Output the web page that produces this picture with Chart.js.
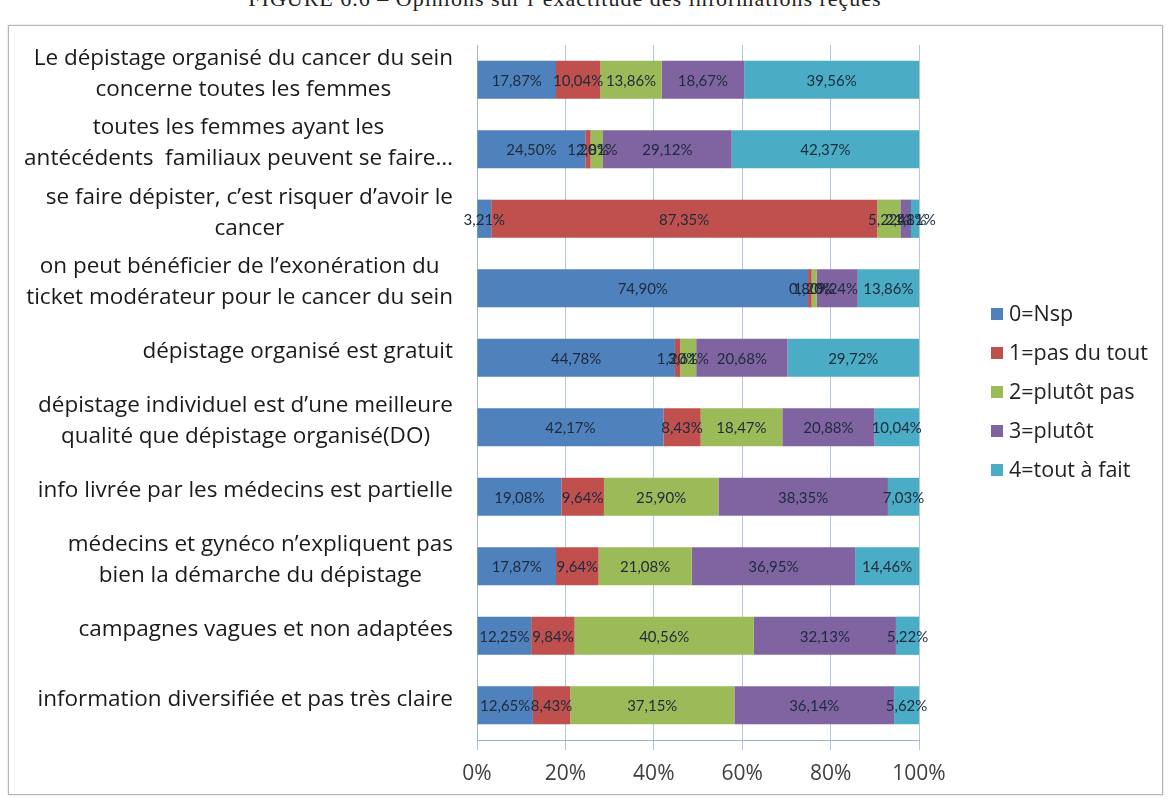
<!DOCTYPE html>
<html>
<head>
<meta charset="utf-8">
<script src="https://cdn.jsdelivr.net/npm/chart.js@4/dist/chart.umd.min.js"></script>
<style>
body{margin:0;background:#fff;width:1169px;height:799px;overflow:hidden;position:relative;font-family:"Open Sans",Lato,sans-serif}
#cap{position:absolute;top:-14px;left:0;width:1130px;text-align:center;font-family:"Liberation Serif","DejaVu Serif",serif;font-size:22px;color:#222;letter-spacing:1px}
#frame{position:absolute;left:8px;top:25px;width:1153px;height:768px;border:1px solid #b5b5b5;box-shadow:0 0 2px #ccc}
#myChart{position:absolute;left:0;top:0}
#leg{position:absolute;left:991px;top:302px;font-size:21.5px;color:#222}
.li{height:39px;line-height:22px;white-space:nowrap}
.sq{display:inline-block;width:12px;height:12px;margin-right:6px;vertical-align:1px}
</style>
</head>
<body>
<div id="cap">FIGURE 6.6 – Opinions sur l’exactitude des informations reçues</div>
<div id="frame"></div>
<canvas id="myChart" width="1169" height="799"></canvas>
<div id="leg"></div>
<script>
let categories=[
  ["Le dépistage organisé du cancer du sein","concerne toutes les femmes"],
  ["toutes les femmes ayant les","antécédents  familiaux peuvent se faire…"],
  ["se faire dépister, c’est risquer d’avoir le","cancer"],
  ["on peut bénéficier de l’exonération du","ticket modérateur pour le cancer du sein"],
  ["dépistage organisé est gratuit"],
  ["dépistage individuel est d’une meilleure","qualité que dépistage organisé(DO)"],
  ["info livrée par les médecins est partielle"],
  ["médecins et gynéco n’expliquent pas","bien la démarche du dépistage"],
  ["campagnes vagues et non adaptées"],
  ["information diversifiée et pas très claire"]
]
let seriesNames=["0=Nsp","1=pas du tout","2=plutôt pas","3=plutôt","4=tout à fait"]
let colors=["#4F81BD","#C0504D","#9BBB59","#8064A2","#4BACC6"]
let nsp=[17.87,24.50,3.21,74.90,44.78,42.17,19.08,17.87,12.25,12.65]
let pasDuTout=[10.04,1.20,87.35,0.80,1.20,8.43,9.64,9.64,9.84,8.43]
let plutotPas=[13.86,2.81,5.22,1.20,3.61,18.47,25.90,21.08,40.56,37.15]
let plutot=[18.67,29.12,2.41,9.24,20.68,20.88,38.35,36.95,32.13,36.14]
let toutAFait=[39.56,42.37,1.81,13.86,29.72,10.04,7.03,14.46,5.22,5.62]
let xTicks=[0,20,40,60,80,100]

let allSeries=[nsp,pasDuTout,plutotPas,plutot,toutAFait]
let myLeg=document.querySelector("#leg")
let st=""
seriesNames.forEach((n,i)=>{
  st+="<div class='li'><span class='sq' style='background:"+colors[i]+"'></span>"+n+"</div>"
})
myLeg.innerHTML=st

// values written in the bars
let barLabels={
  id:"barLabels",
  afterDatasetsDraw(chart){
    let c=chart.ctx
    c.save()
    c.font="15px Lato"
    c.fillStyle="#1d2b3c"
    c.textAlign="center"
    c.textBaseline="middle"
    chart.data.datasets.forEach((ds,di)=>{
      chart.getDatasetMeta(di).data.forEach((bar,i)=>{
        let v=ds.data[i].toFixed(2).replace(".",",")+"%"
        c.fillText(v,(bar.x+bar.base)/2,bar.y+1)
      })
    })
    c.restore()
  }
}

// category labels: block right aligned, lines centred in the block
let catLabels={
  id:"catLabels",
  afterDraw(chart){
    let c=chart.ctx
    let y=chart.scales.y
    c.save()
    c.font="22.5px 'Open Sans'"
    c.fillStyle="#1a1a1a"
    c.textAlign="center"
    c.textBaseline="middle"
    let right=453, lh=31
    categories.forEach((lines,i)=>{
      let w=Math.max(...lines.map(l=>c.measureText(l).width))
      let cx=right-w/2
      let yc=y.getPixelForTick(i)-6
      let top=yc-(lines.length-1)*lh/2
      lines.forEach((l,k)=>c.fillText(l,cx,top+k*lh))
    })
    c.restore()
  }
}

let ctx=document.getElementById("myChart").getContext("2d")
let myChart=new Chart(ctx,{
  type:"bar",
  data:{
    labels:categories,
    datasets:allSeries.map((d,i)=>({
      label:seriesNames[i],
      data:d,
      backgroundColor:colors[i],
      borderWidth:0,
      categoryPercentage:1,
      barPercentage:0.55
    }))
  },
  options:{
    indexAxis:"y",
    responsive:false,
    animation:false,
    layout:{padding:{left:477,right:250,top:45,bottom:19}},
    plugins:{legend:{display:false},tooltip:{enabled:false}},
    scales:{
      x:{
        stacked:true,
        min:0,max:100,
        afterBuildTicks:s=>{s.ticks=xTicks.map(v=>({value:v}))},
        afterFit:s=>{s.height=40},
        grid:{color:"#b3c6da",tickLength:10},
        border:{color:"#9fb5cb"},
        ticks:{callback:v=>v+"%",font:{family:"Open Sans",size:21},color:"#404040",padding:11,maxRotation:0}
      },
      y:{
        stacked:true,
        afterFit:s=>{s.width=0},
        grid:{display:false},
        border:{color:"#9fb5cb"},
        ticks:{display:false}
      }
    }
  },
  plugins:[barLabels,catLabels]
})
</script>
</body>
</html>
